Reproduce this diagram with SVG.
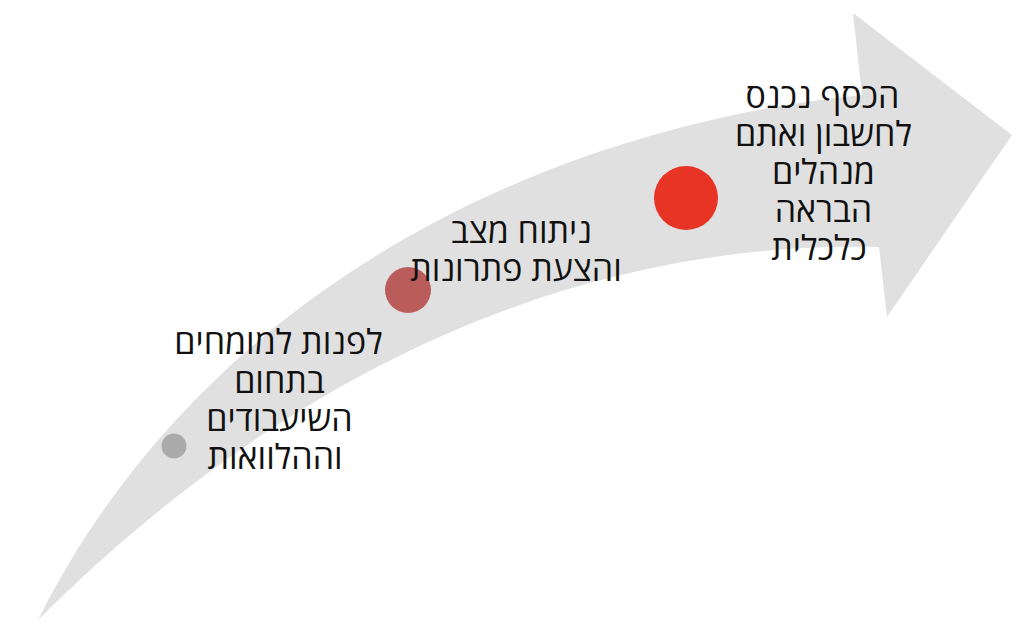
<svg xmlns="http://www.w3.org/2000/svg" width="1024" height="637" viewBox="0 0 1024 637">
  <style>
    .lbl { font-family: "Open Sans", "Liberation Sans", "DejaVu Sans", sans-serif; font-size: 34px; font-weight: 500; fill: #111111; text-anchor: middle; direction: rtl; }
  </style>
  <rect width="1024" height="637" fill="#ffffff"/>
  <g id="connectors">
    <path id="arrow" d="M38,620 C208,280 560,125 862,95 L853,13 L1012,135 L887,317 L879,247 C577,240 288,370 38,620 Z" fill="#e0e0e0"/>
  </g>
  <g id="step1">
    <circle cx="174" cy="446" r="12.5" fill="#ababab"/>
    <text class="lbl">
      <tspan x="274" y="354">לפנות למומחים</tspan>
      <tspan x="275" y="393">בתחום</tspan>
      <tspan x="275" y="431">השיעבודים</tspan>
      <tspan x="275" y="469">וההלוואות</tspan>
    </text>
  </g>
  <g id="step2">
    <circle cx="408" cy="290" r="23" fill="#b95c5a"/>
    <text class="lbl">
      <tspan x="517" y="243">ניתוח מצב</tspan>
      <tspan x="516" y="281">והצעת פתרונות</tspan>
    </text>
  </g>
  <g id="step3">
    <circle cx="686" cy="198" r="32" fill="#e83424"/>
    <text class="lbl">
      <tspan x="818" y="108">הכסף נכנס</tspan>
      <tspan x="819" y="146">לחשבון ואתם</tspan>
      <tspan x="819" y="184">מנהלים</tspan>
      <tspan x="819" y="222">הבראה</tspan>
      <tspan x="819" y="260">כלכלית</tspan>
    </text>
  </g>
</svg>
